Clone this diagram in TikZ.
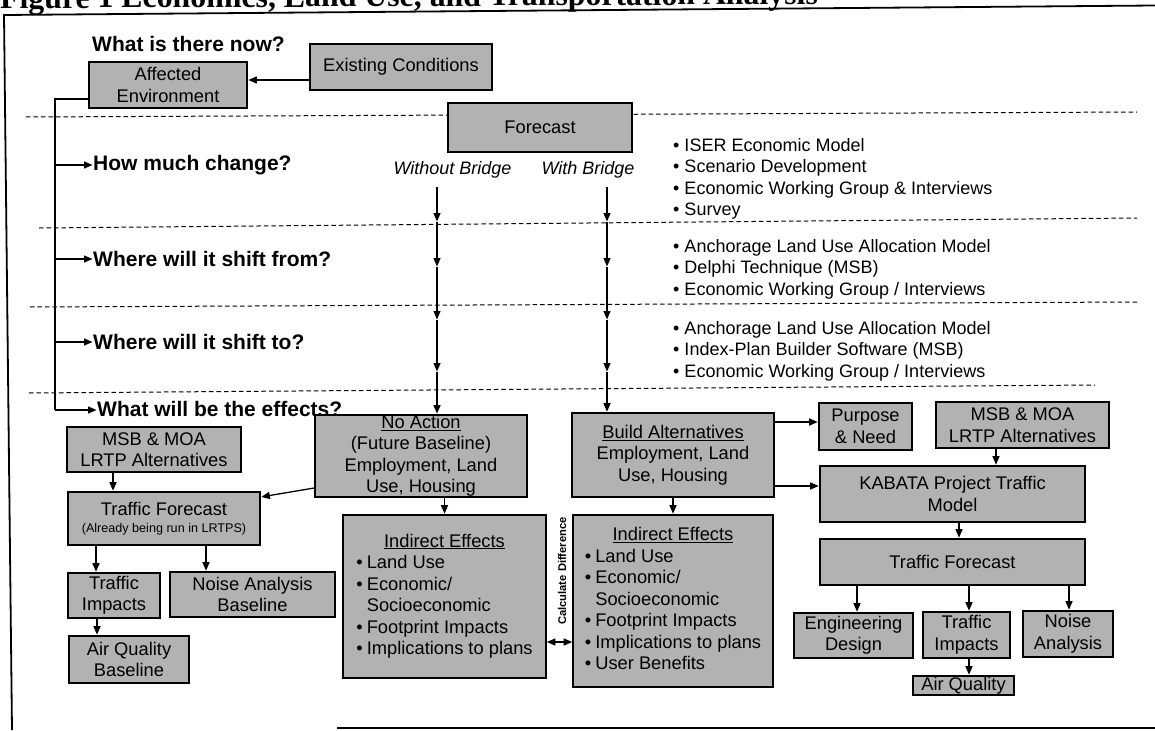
\documentclass[tikz,border=0pt]{standalone}
\usepackage{fontspec}
\setmainfont{Liberation Sans}
\newfontfamily\serifttl{Liberation Serif}
\usetikzlibrary{arrows.meta}
\definecolor{boxgray}{gray}{0.70}
\tikzset{
  >={Triangle[length=8.5pt,width=7pt]},
  box/.style 2 args={draw=black, line width=1.6pt, fill=boxgray, inner sep=0pt, align=center,
    minimum width=#1, minimum height=#2, font=\fontsize{18.3}{21.5}\selectfont},
  conn/.style={line width=1.3pt},
  arr/.style={conn, ->, shorten >=0.5pt},
  sep/.style={line width=1pt, dash pattern=on 4.5pt off 3pt},
  hd/.style={font=\bfseries\fontsize{21}{24}\selectfont, inner sep=0pt, anchor=west},
  lst/.style={font=\fontsize{18}{21.5}\selectfont, align=left, inner sep=0pt, anchor=west},
  itl/.style={font=\itshape\fontsize{18}{21}\selectfont, inner sep=0pt},
  framel/.style={line width=1.8pt}
}
\begin{document}
\begin{tikzpicture}[x=1pt,y=-1pt]
\useasboundingbox (0,0) rectangle (1155,730);
% title (cut by top edge, as in the reference)
\node[font=\serifttl\bfseries\fontsize{31.8}{34}\selectfont, anchor=base west, inner sep=0pt, rotate=0.3] (title) at (0,8.5) {Figure 1 Economics, Land Use, and Transportation Analysis};
% frame
\draw[framel] (1155,5.5) -- (4,15) -- (12,730);
\draw[framel] (337,728) -- (1155,728);
% separators
\draw[sep] (26,117) -- (1137,112);
\draw[sep] (39,228) -- (1137,218);
\draw[sep] (30,307) -- (1138,302);
\draw[sep] (29,393) -- (1095,385);
% top part
\node[hd] (now) at (92,44) {What is there now?};
\node[box={182pt}{46pt}] (exist) at (401,67) {Existing Conditions};
\node[box={158pt}{46pt}] (affected) at (168,85) {Affected\\Environment};
\node[box={184pt}{49pt}] (forecast) at (540,127.5) {Forecast};
\node[itl] (wob) at (452.5,170) {Without Bridge};
\node[itl] (wb) at (588,170) {With Bridge};
\node[hd] (how) at (93,165) {How much change?};
\node[hd] (from) at (93,259) {Where will it shift from?};
\node[hd] (to) at (93,342) {Where will it shift to?};
\node[hd] (effects) at (97,408.5) {What will be the effects?};
\node[lst] (l1) at (673,179) {• ISER Economic Model\\• Scenario Development\\• Economic Working Group \& Interviews\\• Survey};
\node[lst] (l2) at (673,269) {• Anchorage Land Use Allocation Model\\• Delphi Technique (MSB)\\• Economic Working Group / Interviews};
\node[lst] (l3) at (673,351) {• Anchorage Land Use Allocation Model\\• Index-Plan Builder Software (MSB)\\• Economic Working Group / Interviews};
% lower left
\node[box={174pt}{45pt}] (msbL) at (154,449.5) {MSB \& MOA\\LRTP Alternatives};
\node[box={192pt}{53pt}] (tfL) at (164,518.5) {Traffic Forecast\\[-5pt]{\fontsize{12.6}{14}\selectfont (Already being run in LRTPS)}};
\node[box={92pt}{45pt}] (tiL) at (114,595.5) {Traffic\\Impacts};
\node[box={165pt}{45pt}] (nab) at (252.5,594.5) {Noise Analysis\\Baseline};
\node[box={120pt}{47pt}] (aqb) at (129,659.5) {Air Quality\\Baseline};
% middle
\node[box={212pt}{82pt}] (noaction) at (421,456) {\underline{No Action}\\(Future Baseline)\\Employment, Land\\Use, Housing};
\node[box={203pt}{163pt}] (ieL) at (444.5,596.5) {\begin{tabular}{@{}l@{\hspace{4pt}}l@{}}\multicolumn{2}{c}{\underline{Indirect Effects}}\\•&Land Use\\•&Economic/\\&Socioeconomic\\•&Footprint Impacts\\•&Implications to plans\end{tabular}};
\node[rotate=90, font=\bfseries\fontsize{11.2}{13}\selectfont, inner sep=0pt] (calc) at (562,571) {Calculate Difference};
\node[box={202pt}{84pt}] (build) at (673,455) {\underline{Build Alternatives}\\Employment, Land\\Use, Housing};
\node[box={200pt}{172pt}] (ieR) at (673,601) {\begin{tabular}{@{}l@{\hspace{4pt}}l@{}}\multicolumn{2}{c}{\underline{Indirect Effects}}\\•&Land Use\\•&Economic/\\&Socioeconomic\\•&Footprint Impacts\\•&Implications to plans\\•&User Benefits\end{tabular}};
% right
\node[box={93pt}{47pt}] (purpose) at (865.5,426.5) {Purpose\\\& Need};
\node[box={173pt}{46pt}] (msbR) at (1022.5,425) {MSB \& MOA\\LRTP Alternatives};
\node[box={265pt}{56pt}] (kabata) at (952.5,494) {KABATA Project Traffic\\Model};
\node[box={265pt}{46pt}] (tfR) at (952.5,562) {Traffic Forecast};
\node[box={119pt}{45pt}] (eng) at (853.5,635.5) {Engineering\\Design};
\node[box={87pt}{46pt}] (tiR) at (966.5,635) {Traffic\\Impacts};
\node[box={90pt}{46pt}] (noise) at (1068,634) {Noise\\Analysis};
\node[box={101pt}{19pt}] (aq) at (963.5,685.5) {Air Quality};
% connectors top
\path ([yshift=-13pt]exist.west) coordinate (e1);
\draw[arr] (e1) -- (e1 -| affected.east);
\coordinate (bT) at (55,99);
\coordinate (bB) at (55,410);
\draw[conn] (affected.west |- bT) -- (bT) -- (bB);
\draw[arr] (bB) -- (bB -| effects.west);
\draw[arr] (bT |- how.west) -- (how.west);
\draw[arr] (bT |- from.west) -- (from.west);
\draw[arr] (bT |- to.west) -- (to.west);
% the two forecast columns, with arrowheads along the way
\foreach \c/\xx in {wo/437, w/607} {
  \coordinate (\c0) at (\xx,187);
  \coordinate (\c1) at (\xx,222);
  \coordinate (\c2) at (\xx,267);
  \coordinate (\c3) at (\xx,320);
  \coordinate (\c4) at (\xx,372);
  \draw[arr] (\c0) -- (\c1);
  \draw[arr] (\c1) -- (\c2);
  \draw[arr] (\c2) -- (\c3);
  \draw[arr] (\c3) -- (\c4);
}
\draw[arr] (wo4) -- (wo4 |- noaction.north);
\draw[arr] (w4) -- (w4 |- build.north);
% connectors lower left
\path ([yshift=-32pt]noaction.west) coordinate (na1) ([yshift=21.5pt]tfL.east) coordinate (tf1);
\draw[arr] (na1) -- (tf1);
\path ([xshift=-41pt]msbL.south) coordinate (m1);
\draw[arr] (m1) -- (m1 |- tfL.north);
\path ([xshift=-68pt]tfL.south) coordinate (t1) ([xshift=42pt]tfL.south) coordinate (t2) ([xshift=-17pt]tiL.south) coordinate (t3);
\draw[arr] (t1) -- (t1 |- tiL.north);
\draw[arr] (t2) -- (t2 |- nab.north);
\draw[arr] (t3) -- (t3 |- aqb.north);
% middle
\draw[arr] (noaction.south -| ieL.north) -- (ieL.north);
\draw[arr] (build.south) -- (ieR.north);
\path ([yshift=-45.5pt]ieL.east) coordinate (dd);
\draw[conn,<->] (dd) -- (dd -| ieR.west);
% right
\path ([yshift=33pt]build.east) coordinate (b1) ([yshift=-31pt]build.east) coordinate (b2);
\draw[arr] (b1) -- (b1 -| purpose.west);
\draw[arr] (b2) -- (b2 -| kabata.west);
\path ([xshift=-26.5pt]msbR.south) coordinate (r1) ([xshift=6.5pt]kabata.south) coordinate (r2);
\draw[arr] (r1) -- (r1 |- kabata.north);
\draw[arr] (r2) -- (r2 |- tfR.north);
\path ([xshift=-95.5pt]tfR.south) coordinate (r3) ([xshift=16.5pt]tfR.south) coordinate (r4) ([xshift=116.5pt]tfR.south) coordinate (r5) ([xshift=2.5pt]tiR.south) coordinate (r6);
\draw[arr] (r3) -- (r3 |- eng.north);
\draw[arr] (r4) -- (r4 |- tiR.north);
\draw[arr] (r5) -- (r5 |- noise.north);
\draw[arr] (r6) -- (r6 |- aq.north);
\end{tikzpicture}
\end{document}
